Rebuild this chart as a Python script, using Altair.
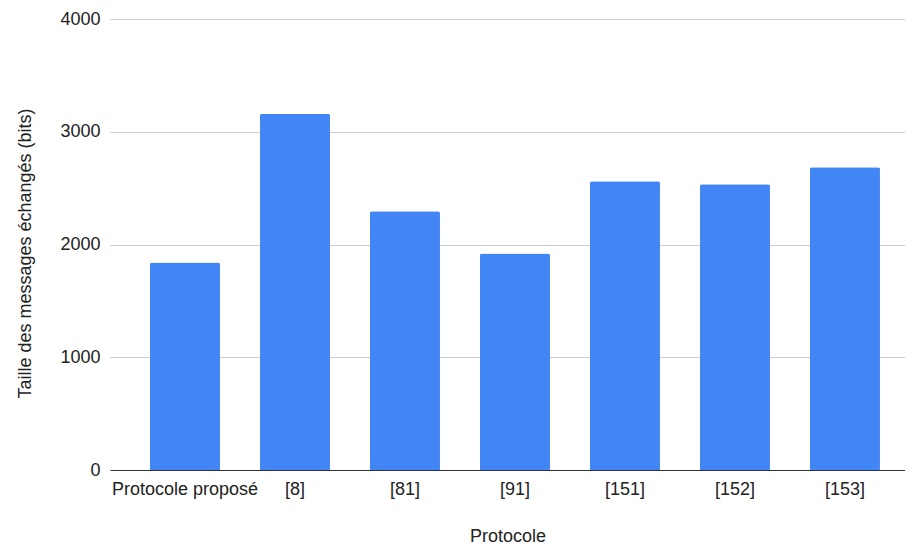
import altair as alt
import pandas as pd

protocols = ["Protocole proposé", "[8]", "[81]", "[91]", "[151]", "[152]", "[153]"]
sizes = [1840, 3159, 2295, 1920, 2562, 2535, 2686]

df = pd.DataFrame({"Protocole": protocols, "Taille": sizes})

FONT = "Liberation Sans"

chart = alt.Chart(df).mark_bar(
    color="#4285F4", cornerRadiusTopLeft=2, cornerRadiusTopRight=2
).encode(
    x=alt.X(
        "Protocole:N",
        sort=protocols,
        scale=alt.Scale(paddingInner=0.3636, paddingOuter=0.2955, align=0.615),
        axis=alt.Axis(
            title="Protocole",
            labelAngle=0,
            labelFontSize=18,
            labelFont=FONT,
            labelColor="#222222",
            labelPadding=10,
            ticks=False,
            domainColor="#333333",
            domainWidth=1,
            titleFont=FONT,
            titleFontSize=18,
            titleFontWeight="normal",
            titleColor="#222222",
            titleBaseline="alphabetic",
            titleY=71,
        ),
    ),
    y=alt.Y(
        "Taille:Q",
        scale=alt.Scale(domain=[0, 4000], nice=False),
        axis=alt.Axis(
            title="Taille des messages échangés (bits)",
            values=[0, 1000, 2000, 3000, 4000],
            format="d",
            labelFontSize=18,
            labelFont=FONT,
            labelColor="#222222",
            labelPadding=10,
            ticks=False,
            domain=False,
            gridColor="#cccccc",
            gridWidth=1,
            titleFont=FONT,
            titleFontSize=18,
            titleFontWeight="normal",
            titleColor="#222222",
            titleAngle=-90,
            titleBaseline="alphabetic",
            titleAlign="center",
            titleX=-80,
            titleY=234,
        ),
    ),
).properties(
    width=795,
    height=451,
    padding={"left": 110, "top": 19, "right": 0, "bottom": 77},
    autosize=alt.AutoSizeParams(type="none"),
).configure_view(stroke=None)

chart.save("out.html", embed_options={"renderer": "svg", "actions": False})
